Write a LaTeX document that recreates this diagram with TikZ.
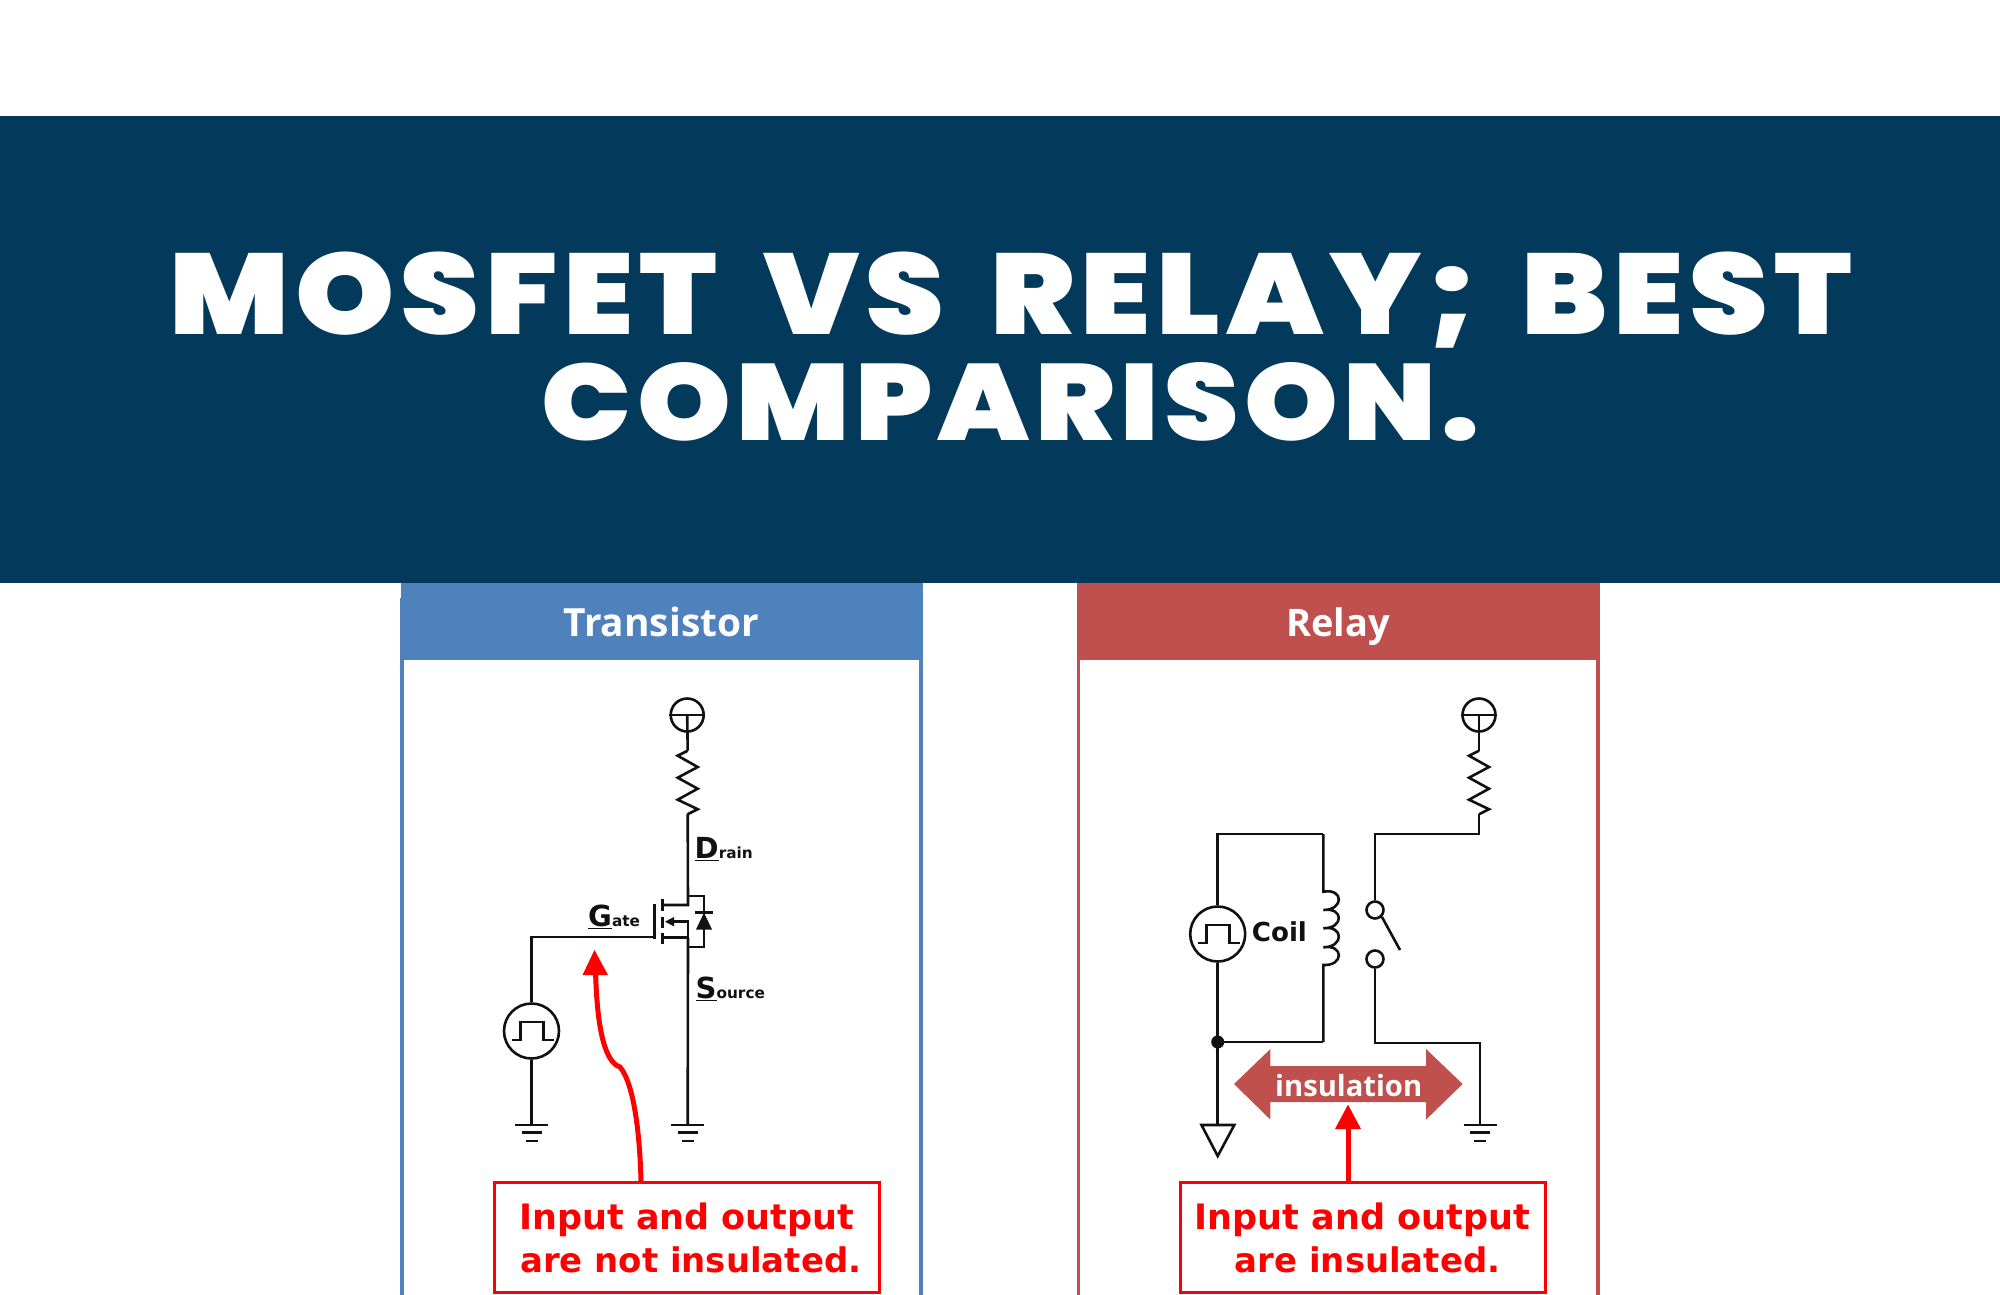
\documentclass[tikz,border=0pt]{standalone}
\usepackage{fontspec}
\usepackage{graphicx}
\usetikzlibrary{arrows.meta}
\setmainfont{DejaVu Sans}
\newfontfamily\titlefont{Poppins}[UprightFont=* Black,FakeStretch=1.1,LetterSpace=5,WordSpace=1.7]
\newfontfamily\boxfont{DejaVu Sans Bold}
\newfontfamily\headfont{Open Sans}[UprightFont=* Bold]
\definecolor{banner}{HTML}{03395A}
\definecolor{bluehd}{HTML}{4F81BD}
\definecolor{redhd}{HTML}{C0504D}
\definecolor{alert}{HTML}{FF0000}
\definecolor{ink}{HTML}{111111}
\tikzset{
  wire/.style={draw=ink,line width=2.6pt,line join=miter},
  term/.style={circle,draw=ink,line width=2.6pt,minimum size=33pt,inner sep=0pt},
  srcc/.style={circle,draw=ink,line width=2.6pt,minimum size=55pt,inner sep=0pt},
  contact/.style={circle,draw=ink,line width=2.6pt,minimum size=17pt,inner sep=0pt},
  alertbox/.style={draw=alert,fill=white,line width=3pt,inner sep=0pt,anchor=north west},
  alertarrow/.style={draw=alert,line width=5pt},
  alerttext/.style={text=alert,font=\boxfont,inner sep=0pt,anchor=base west},
  headtext/.style={text=white,font=\headfont,inner sep=0pt,anchor=base},
  pinlabel/.style={text=ink,font=\boxfont,inner sep=0pt,anchor=base west},
  titletext/.style={text=white,font=\titlefont\fontsize{114}{114}\selectfont,inner sep=0pt,anchor=base},
  pics/gnd/.style={code={
    \draw[wire] (-16.5,0) -- (16.5,0);
    \draw[wire] (-10,7.5) -- (10,7.5);
    \draw[wire] (-6,16) -- (6,16);
  }},
  pics/zigzag/.style={code={
    \draw[wire] (0,0) -- (-10,5) -- (10,16.3) -- (-10,27) -- (10,38) -- (-10,49) -- (10,58.5) -- (0,63.5);
  }},
  pics/pulse/.style={code={
    \draw[wire] (-20,9) -- (-11,9) -- (-11,-9) -- (12,-9) -- (12,9) -- (22,9);
  }},
}
\newcommand{\fitw}[2]{\resizebox{#1pt}{!}{#2}}
\begin{document}
\begin{tikzpicture}[x=1pt,y=-1pt]
\useasboundingbox (0,0) rectangle (2000,1294);
\fill[white] (0,0) rectangle (2000,1294);
% banner
\fill[banner] (0,116) rectangle (2000,583);
\node[titletext] (title1) at (1011,334) {\fitw{1682}{MOSFET VS RELAY; BEST}};
\node[titletext] (title2) at (1011,440.7) {\fitw{938}{COMPARISON.}};
% panels
\fill[white,draw=bluehd,line width=3.5pt] (402.2,600) rectangle (921.2,1300);
\fill[bluehd] (400.5,583) rectangle (923,660);
\fill[white,draw=redhd,line width=3.5pt] (1078.7,600) rectangle (1598,1300);
\fill[redhd] (1077,583) rectangle (1599.8,660);
\node[headtext] (headT) at (661.2,636) {\fitw{195.5}{Transistor}};
\node[headtext] (headR) at (1337.8,636) {\fitw{103.6}{Relay}};

% ---------- transistor circuit
\node[term] (plusA) at (687.2,715) {};
\draw[wire] (plusA.west) -- (plusA.east);
\coordinate (resAtop) at (687.7,750.7);
\coordinate (resAbot) at (687.7,814.2);
\draw[wire] (plusA.center) -- (resAtop);
\pic at (resAtop) {zigzag};
\coordinate (chTop) at (688,905);
\coordinate (chMid) at (688,921.7);
\coordinate (chBot) at (688,937.7);
\coordinate (drainTop) at (688,896);
\coordinate (srcBot) at (688,947);
\coordinate (gndB) at (687.7,1125);
\coordinate (gateEnd) at (654.3,937);
\draw[wire] (resAbot) -- (chTop) -- (662.3,905);
\draw[wire] (chBot) -- (662.3,937.7);
\draw[wire] (chBot) -- (chMid) -- (672,921.7);
\fill[ink] (665,921.7) -- (674,917) -- (674,926.4) -- cycle;
\draw[wire] (drainTop) -- (704,896) -- (704,947) -- (srcBot);
\draw[wire] (chBot) -- (gndB);
\pic at (gndB) {gnd};
% diode
\draw[wire] (695,912.3) -- (713,912.3);
\fill[ink] (704,912.8) -- (712,929.5) -- (696,929.5) -- cycle;
% channel and gate plates
\draw[ink,line width=3pt] (662.3,899) -- (662.3,911) (662.3,917) -- (662.3,928) (662.3,933) -- (662.3,944);
\draw[ink,line width=3.2pt] (654.3,904) -- (654.3,939);
% source
\node[srcc] (srcA) at (531.5,1031) {};
\pic at (srcA) {pulse};
\coordinate (gndA) at (531.5,1125);
\draw[wire] (srcA.north) |- (gateEnd);
\draw[wire] (srcA.south) -- (gndA);
\pic at (gndA) {gnd};
% labels
\node[pinlabel] (lbD) at (694.5,858.5) {{\fontsize{29}{29}\selectfont\underline{D}}{\fontsize{15.3}{15.3}\selectfont rain}};
\node[pinlabel] (lbG) at (588,926) {{\fontsize{29}{29}\selectfont\underline{G}}{\fontsize{15.3}{15.3}\selectfont ate}};
\node[pinlabel] (lbS) at (695.5,998.5) {{\fontsize{29}{29}\selectfont\underline{S}}{\fontsize{15.3}{15.3}\selectfont ource}};
% red box + arrow
\node[alertbox,minimum width=385.5pt,minimum height=110pt] (boxT) at (492.8,1180.5) {};
\coordinate (curveTip) at (595.5,970);
\draw[alertarrow] (641,1181) .. controls (640,1140) and (635,1085) .. (620,1067)
  .. controls (605,1062) and (597,1030) .. (curveTip);
\fill[alert] (594.5,950) -- (608,975) -- (582.5,975) -- cycle;
\node[alerttext] (txtT1) at (519,1229) {\fitw{335}{Input and output}};
\node[alerttext] (txtT2) at (520,1272) {\fitw{341}{are not insulated.}};

% ---------- relay circuit
\node[term] (plusB) at (1479,715) {};
\draw[wire] (plusB.west) -- (plusB.east);
\coordinate (resBtop) at (1479,750.7);
\coordinate (resBbot) at (1479,814.2);
\draw[wire] (plusB.center) -- (resBtop);
\pic at (resBtop) {zigzag};
\node[contact] (swU) at (1375,910) {};
\node[contact] (swL) at (1375,959) {};
\coordinate (swArmEnd) at (1400,950);
\draw[wire] (resBbot) -- (1479,834) -| (swU.north);
\draw[wire] (swU.south east) -- (swArmEnd);
\coordinate (gndC) at (1480,1125);
\draw[wire] (swL.south) |- (1480,1043) -- (gndC);
\pic at (gndC) {gnd};
% coil loop
\node[srcc] (srcB) at (1217.7,934) {};
\pic at (srcB) {pulse};
\node[circle,fill=ink,inner sep=0pt,minimum size=13pt] (dot) at (1217.7,1042) {};
\coordinate (coilT) at (1323.3,834);
\coordinate (coilB) at (1323.3,1042);
\draw[wire] (srcB.north) |- (coilT);
\draw[wire] (srcB.south) -- (dot.center);
\draw[wire] (dot.center) -- (coilB);
\draw[wire] (coilT) -- (1323.3,891.7) .. controls (1344,888) and (1344,910) .. (1323.3,910)
  .. controls (1344,907) and (1344,928.3) .. (1323.3,928.3)
  .. controls (1344,925) and (1344,947.3) .. (1323.3,947.3)
  .. controls (1344,944) and (1344,966) .. (1323.3,965) -- (coilB);
\node[pinlabel] (lbCoil) at (1251.7,941.7) {\fitw{55}{Coil}};
\coordinate (triTop) at (1217.7,1125);
\draw[wire] (dot.center) -- (triTop);
\draw[wire,line join=miter] (1201.5,1125) -- (1234.3,1125) -- (1217.7,1156) -- cycle;
% insulation arrow
\fill[redhd] (1234,1084) -- (1270.4,1049) -- (1270.4,1066) -- (1426,1066) -- (1426,1049) -- (1462.6,1084) -- (1426,1119.6) -- (1426,1102) -- (1270.4,1102) -- (1270.4,1119.6) -- cycle;
\node[inner sep=0pt,anchor=base west,text=white,font=\headfont] (ins) at (1275,1096) {\fitw{147}{insulation}};
% red box + arrow
\node[alertbox,minimum width=364.5pt,minimum height=110pt] (boxR) at (1179,1180.5) {};
\coordinate (tipR) at (1348,1125);
\draw[alertarrow] (boxR.north -| tipR) -- (tipR);
\fill[alert] (1348,1104.6) -- (1361,1129) -- (1335,1129) -- cycle;
\node[alerttext] (txtR1) at (1194.6,1229) {\fitw{335.4}{Input and output}};
\node[alerttext] (txtR2) at (1234.6,1272) {\fitw{265.4}{are insulated.}};
\end{tikzpicture}
\end{document}
